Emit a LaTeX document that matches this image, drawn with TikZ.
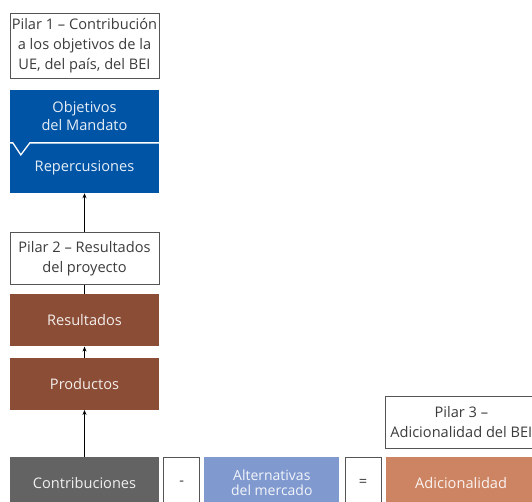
\documentclass[tikz,border=0pt]{standalone}
\usepackage{fontspec}
\setmainfont{Open Sans}
\usetikzlibrary{positioning,arrows.meta}
\definecolor{eibblue}{RGB}{0,84,166}
\definecolor{outbrown}{RGB}{139,77,54}
\definecolor{inputgrey}{RGB}{99,99,99}
\definecolor{marketblue}{RGB}{128,153,207}
\definecolor{addorange}{RGB}{205,132,99}
\definecolor{framegrey}{RGB}{85,85,85}
\definecolor{textgrey}{RGB}{60,60,60}

\begin{document}
\begin{tikzpicture}[x=1pt, y=1pt,
    pillar/.style={rectangle, draw=framegrey, line width=0.9pt, fill=white, text=textgrey, minimum width=149pt, inner sep=0pt, align=center, font=\fontsize{14.6}{20}\selectfont},
    block/.style={rectangle, fill=#1, text=white, text opacity=0.9, minimum width=149pt, minimum height=52pt, inner sep=0pt, align=center, font=\fontsize{14.6}{18}\selectfont},
    sign/.style={rectangle, draw=framegrey, line width=0.9pt, fill=white, text=textgrey, minimum width=36pt, minimum height=52pt, inner sep=0pt, font=\fontsize{14.6}{18}\selectfont},
    link/.style={-{Stealth[length=5pt,width=4pt]}, line width=0.8pt, black}]
    \useasboundingbox (0,0) rectangle (532,-501);

    % Pilar 1 and mandate
    \node[pillar, minimum height=65pt] (pilar1) at (84.5,-45.5) {Pilar 1 – Contribución\\a los objetivos de la\\UE, del país, del BEI};
    \node[block=eibblue, minimum height=53pt, below=11pt of pilar1] (mandate) {Objetivos\\del Mandato};
    \node[block=eibblue, minimum height=50pt, below=0pt of mandate] (impact) {Repercusiones};
    \draw[white, line width=1.3pt] (mandate.south west) -- ++(3,0) -- ++(8,-12) -- ++(9,12) -- (mandate.south east);

    % Pilar 2
    \node[pillar, minimum height=52pt, below=39pt of impact] (pilar2) {Pilar 2 – Resultados\\del proyecto};
    \node[block=outbrown, below=9pt of pilar2] (results) {Resultados};
    \node[block=outbrown, below=11pt of results] (outputs) {Productos};

    % Pilar 3 row
    \node[block=inputgrey, below=47pt of outputs] (inputs) {Contribuciones};
    \node[sign, right=4pt of inputs] (minus) {-};
    \node[block=marketblue, minimum width=135pt, right=4pt of minus, font=\fontsize{14}{15}\selectfont] (market) {Alternativas\\del mercado};
    \node[sign, right=5pt of market] (equals) {=};
    \node[block=addorange, minimum width=151pt, right=4pt of equals] (additional) {Adicionalidad};
    \node[pillar, minimum width=151pt, minimum height=52pt, above right=8pt and 0pt of additional.north west] (pilar3) {Pilar 3 –\\Adicionalidad del BEI};

    % Arrows
    \draw[link] (pilar2) -- (impact);
    \draw[line width=0.8pt] (results) -- (pilar2);
    \draw[link] (outputs) -- (results);
    \draw[link] (inputs) -- (outputs);
\end{tikzpicture}
\end{document}
